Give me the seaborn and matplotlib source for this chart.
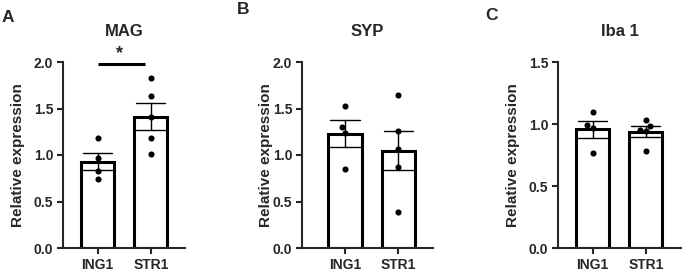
import pandas as pd
import numpy as np
import matplotlib
matplotlib.use("Agg")
import matplotlib.pyplot as plt
import seaborn as sns

# ===== data =====
groups = ["ING1", "STR1"]

mag_ing1 = [1.18, 0.97, 0.83, 0.74]
mag_str1 = [1.83, 1.63, 1.41, 1.18, 1.01]

syp_ing1 = [1.53, 1.30, 1.24, 0.85]
syp_str1 = [1.645, 1.26, 1.065, 0.87, 0.385]

iba1_ing1 = [1.10, 0.99, 0.965, 0.77]
iba1_str1 = [1.03, 0.98, 0.955, 0.945, 0.78]

titles = ["MAG", "SYP", "Iba 1"]
letters = ["A", "B", "C"]
y_max = [2.0, 2.0, 1.5]
y_ticks = [[0.0, 0.5, 1.0, 1.5, 2.0], [0.0, 0.5, 1.0, 1.5, 2.0], [0.0, 0.5, 1.0, 1.5]]


def long_table(ing1, str1):
    return pd.DataFrame({
        "group": [groups[0]] * len(ing1) + [groups[1]] * len(str1),
        "value": ing1 + str1,
    })


tables = [
    long_table(mag_ing1, mag_str1),
    long_table(syp_ing1, syp_str1),
    long_table(iba1_ing1, iba1_str1),
]

# ===== style =====
sns.set_style("ticks")
plt.rcParams["font.family"] = ["Liberation Sans", "DejaVu Sans"]
plt.rcParams["font.weight"] = "bold"
plt.rcParams["axes.linewidth"] = 1.5

W, H = 682, 271
fig = plt.figure(figsize=(W / 100, H / 100), dpi=100)

# axes boxes in pixels: left, right (top=62, bottom=248)
boxes = [(63, 185), (302, 433), (558, 682)]
first_bar = [97.5, 345, 592.5]
spacing = 53.3
label_x = [25, 273, 520]
letter_xy = [(2, 18), (237, 9), (485, 15)]

for i, df in enumerate(tables):
    left, right = boxes[i]
    ax = fig.add_axes([left / W, (H - 248) / H, (right - left) / W, 186 / H])

    sns.barplot(
        data=df, x="group", y="value", order=groups,
        errorbar="se", capsize=0.55, width=0.62,
        color="white", edgecolor="black", linewidth=2.2,
        err_kws={"color": "black", "linewidth": 1.0},
        ax=ax,
    )
    sns.swarmplot(
        data=df, x="group", y="value", order=groups,
        color="black", size=4.4, ax=ax, zorder=5,
    )

    x0 = -(first_bar[i] - left) / spacing
    x1 = x0 + (right - left) / spacing
    ax.set_xlim(x0, x1)
    ax.set_ylim(0, y_max[i])
    ax.set_yticks(y_ticks[i])
    ax.set_yticklabels([f"{t:.1f}" for t in y_ticks[i]])
    ax.tick_params(axis="both", labelsize=10, width=1.5, length=4.5, pad=2.5)
    ax.set_xlabel("")
    ax.set_ylabel("Relative expression", fontsize=11, fontweight="bold")
    ax.yaxis.set_label_coords((label_x[i] - left) / (right - left), 0.5)
    ax.set_title(titles[i], fontsize=12, fontweight="bold", pad=18.5)
    sns.despine(ax=ax)

    lx, ly = letter_xy[i]
    fig.text(lx / W, 1 - ly / H, letters[i], fontsize=12.5, fontweight="bold",
             ha="left", va="center")

# significance bar on MAG
ax0 = fig.axes[0]
ax0.plot([0, 0.9], [1.98, 1.98], color="black", lw=2.2, clip_on=False,
         solid_capstyle="butt")
ax0.text(0.42, 1.995, "*", ha="center", va="bottom", fontsize=13,
         fontweight="bold")

fig.savefig("out.png", dpi=100)
